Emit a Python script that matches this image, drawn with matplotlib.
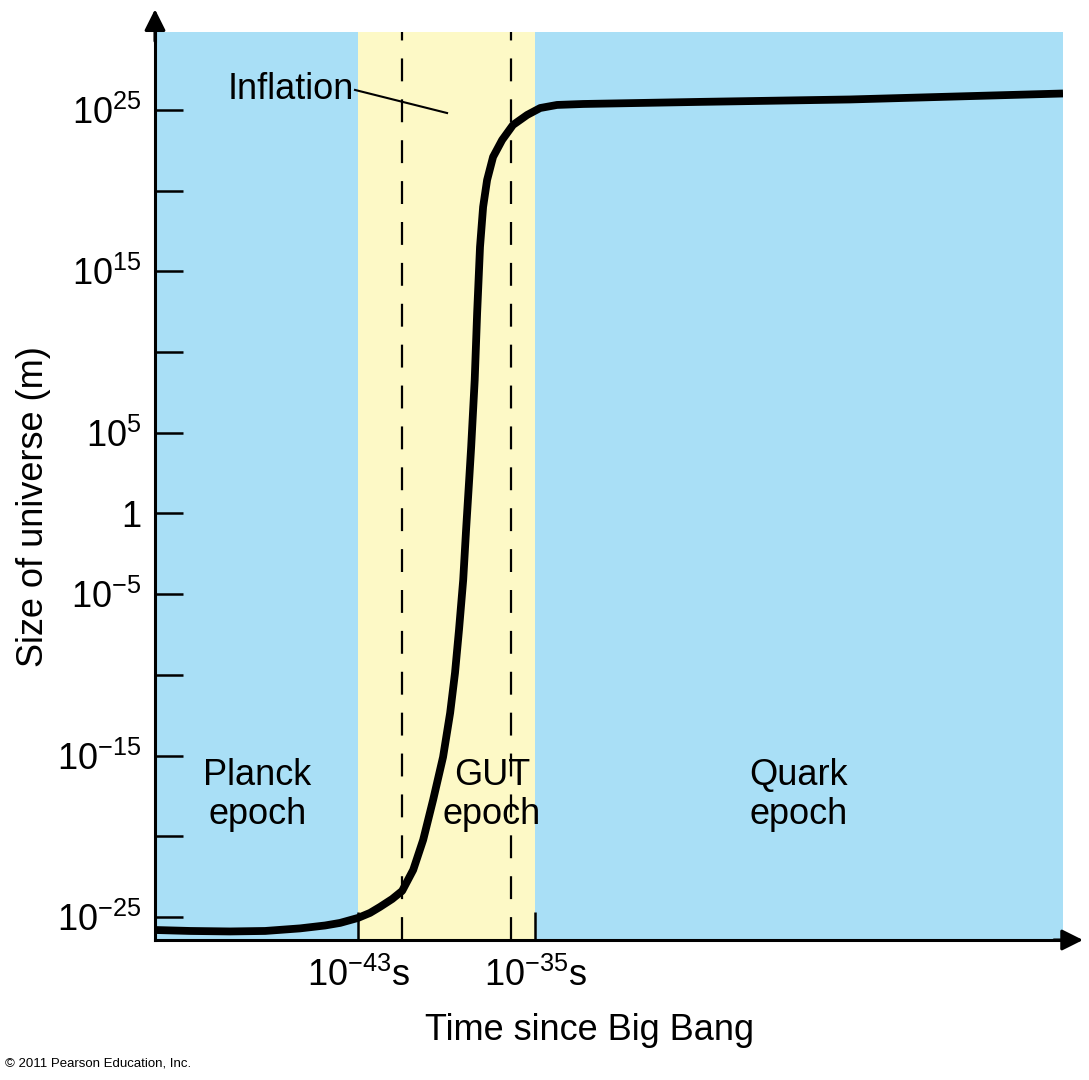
import numpy as np
import matplotlib
matplotlib.use('Agg')
import matplotlib.pyplot as plt
from matplotlib.ticker import FixedLocator, NullLocator

plt.rcParams['font.family'] = ['Liberation Sans', 'DejaVu Sans']
plt.rcParams['mathtext.fontset'] = 'custom'
plt.rcParams['mathtext.rm'] = 'Liberation Sans'
plt.rcParams['mathtext.it'] = 'Liberation Sans:italic'
plt.rcParams['mathtext.bf'] = 'Liberation Sans:bold'

# curve: log10(time) vs log10(size in m)
log_time = [-52.18, -50.59, -48.79, -47.20, -45.62, -44.49, -43.81, -43.00, -42.46,
            -42.01, -41.46, -41.01, -40.51, -40.06, -39.61, -39.16, -38.84, -38.62,
            -38.44, -38.25, -38.12, -37.98, -37.89, -37.73, -37.62, -37.49, -37.35,
            -37.17, -36.90, -36.49, -36.00, -35.36, -34.77, -34.01, -32.83, -27.54,
            -20.76, -11.14]
log_size = [-25.81, -25.87, -25.90, -25.87, -25.71, -25.53, -25.37, -25.06, -24.75,
            -24.38, -23.89, -23.39, -22.09, -20.23, -17.75, -15.09, -12.36, -9.88,
            -7.22, -4.12, -1.02, 2.08, 4.12, 8.27, 12.42, 16.51, 18.99,
            20.66, 22.09, 23.14, 24.07, 24.69, 25.12, 25.31, 25.37, 25.50,
            25.65, 26.02]

gut_start, gut_end = -43, -35
dashed_at = [-41.0, -36.08]

ytick_exp = [25, 20, 15, 10, 5, 0, -5, -10, -15, -20, -25]
ytick_labels = [r'$10^{25}$', '', r'$10^{15}$', '', r'$10^{5}$', '1', r'$10^{-5}$', '',
                r'$10^{-15}$', '', r'$10^{-25}$']
xticks = [-43, -35]
xtick_labels = [r'$10^{-43}$s', r'$10^{-35}$s']

epochs = ['Planck\nepoch', 'GUT\nepoch', 'Quark\nepoch']
epoch_x = [-47.56, -36.95, -23.11]
epoch_y = -17.44

blue = '#a9dff6'
yellow = '#fdf9c6'

fig = plt.figure(figsize=(10.89, 10.8), dpi=100)
ax = fig.add_axes([155 / 1089, 1 - 940 / 1080, 908 / 1089, 908 / 1080])
ax.set_facecolor(blue)
ax.set_yscale('log')
ax.set_xlim(-52.18, -11.14)
ax.set_ylim(10 ** -26.43, 10 ** 29.83)

ax.axvspan(gut_start, gut_end, color=yellow, lw=0, zorder=0.5)
for xd in dashed_at:
    ax.axvline(xd, color='black', lw=1.6, linestyle=(0, (10.3, 8.1)), zorder=1)

ax.plot(log_time, 10.0 ** np.array(log_size), color='black', lw=5.6,
        solid_joinstyle='round', solid_capstyle='butt', zorder=3)

for label, xe in zip(epochs, epoch_x):
    ax.text(xe, 10 ** epoch_y, label, ha='center', va='center', fontsize=26,
            linespacing=1.15, zorder=4)

# Inflation label with leader line
ax.text(-43.2, 10 ** 26.24, 'Inflation', ha='right', va='center', fontsize=26, zorder=4)
ax.plot([-43.14, -38.98], [10 ** 26.24, 10 ** 24.81], color='black', lw=1.5, zorder=4)

ax.yaxis.set_major_locator(FixedLocator([10.0 ** e for e in ytick_exp]))
ax.yaxis.set_minor_locator(NullLocator())
ax.set_yticklabels(ytick_labels)
ax.set_xticks(xticks)
ax.set_xticklabels(xtick_labels)
ax.tick_params(axis='both', direction='in', length=20, width=1.8, labelsize=26)
ax.tick_params(axis='y', pad=10)
ax.tick_params(axis='x', pad=13)

for side in ['top', 'right']:
    ax.spines[side].set_visible(False)
for side in ['left', 'bottom']:
    ax.spines[side].set_linewidth(2.2)

# axis arrows
ax.annotate('', xy=(0, 1.025), xytext=(0, 0.99), xycoords='axes fraction',
            arrowprops=dict(arrowstyle='-|>', lw=2.2, color='black', mutation_scale=32,
                            shrinkA=0, shrinkB=0), annotation_clip=False)
ax.annotate('', xy=(1.022, 0), xytext=(0.99, 0), xycoords='axes fraction',
            arrowprops=dict(arrowstyle='-|>', lw=2.2, color='black', mutation_scale=32,
                            shrinkA=0, shrinkB=0), annotation_clip=False)
ax.plot([0, 0], [0.99, 1.0], transform=ax.transAxes, color='black', lw=2.2, clip_on=False)

ax.set_xlabel('Time since Big Bang', fontsize=26)
ax.xaxis.set_label_coords(0.478, -0.08)
ax.set_ylabel('Size of universe (m)', fontsize=26)
ax.yaxis.set_label_coords(-0.114, 0.477)

fig.text(5 / 1089, 1 - 1063 / 1080, '\u00a9 2011 Pearson Education, Inc.', fontsize=9.5,
         va='center', ha='left')

fig.savefig('out.png', dpi=100)
